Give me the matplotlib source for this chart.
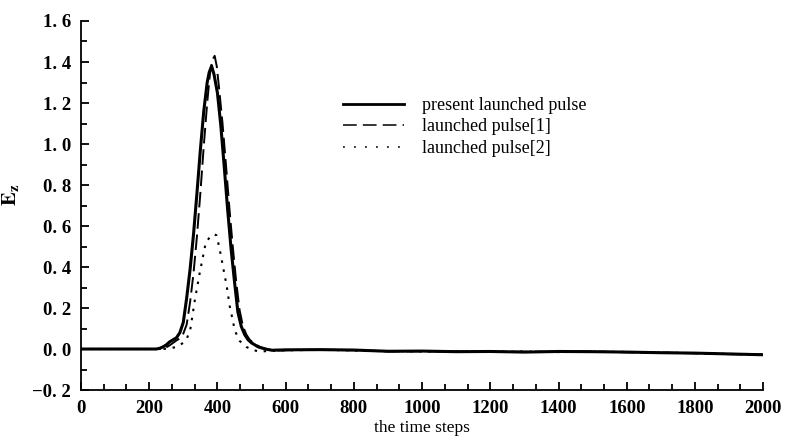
import matplotlib
matplotlib.use('agg')
import matplotlib.pyplot as plt
import matplotlib.ticker as mticker

plt.rcParams['mathtext.fontset'] = 'stix'

# time steps and field values
t_present = [0, 220, 230, 240, 250, 260, 270, 280, 290, 300, 310, 320, 330, 340, 350,
             360, 370, 376, 383, 390, 400, 410, 420, 430, 440, 450, 460, 470, 480,
             490, 500, 520, 540, 560, 600, 700, 800, 900, 1000, 1100, 1200, 1300,
             1400, 1500, 1600, 1700, 1800, 1900, 2000]
e_present = [0.0, 0.0, 0.003, 0.01, 0.02, 0.035, 0.045, 0.055, 0.08, 0.13, 0.25, 0.39,
             0.56, 0.76, 0.97, 1.16, 1.30, 1.35, 1.38, 1.34, 1.25, 1.09, 0.89, 0.68,
             0.49, 0.33, 0.18, 0.11, 0.07, 0.045, 0.03, 0.01, 0.0, -0.006, -0.004,
             -0.003, -0.005, -0.011, -0.010, -0.013, -0.012, -0.015, -0.012, -0.013,
             -0.015, -0.018, -0.02, -0.024, -0.028]

t_pulse1 = [0, 230, 240, 250, 260, 270, 280, 290, 300, 310, 320, 330, 340, 350, 360,
            370, 378, 385, 392, 398, 405, 415, 425, 435, 445, 455, 465, 475, 485,
            495, 505, 525, 545, 565, 600, 700, 800, 900, 1000, 1100, 1200, 1300,
            1400, 1500, 1600, 1700, 1800, 1900, 2000]
e_pulse1 = [0.0, 0.0, 0.002, 0.008, 0.018, 0.03, 0.042, 0.052, 0.075, 0.12, 0.23, 0.37,
            0.55, 0.76, 0.99, 1.20, 1.34, 1.41, 1.43, 1.38, 1.27, 1.10, 0.90, 0.69,
            0.50, 0.33, 0.19, 0.11, 0.07, 0.045, 0.03, 0.01, 0.0, -0.008, -0.006,
            -0.004, -0.006, -0.012, -0.011, -0.012, -0.014, -0.013, -0.014, -0.012,
            -0.016, -0.017, -0.021, -0.025, -0.027]

t_pulse2 = [0, 240, 260, 280, 300, 310, 320, 334, 348, 366, 380, 390, 397, 405, 412,
            420, 427, 436, 445, 451, 465, 485, 505, 524, 545, 600, 700, 800, 900,
            1000, 1100, 1200, 1300, 1400, 1500, 1600, 1700, 1800, 1900, 2000]
e_pulse2 = [0.0, 0.0, 0.003, 0.01, 0.03, 0.05, 0.09, 0.24, 0.37, 0.52, 0.55, 0.56, 0.555,
            0.5, 0.44, 0.37, 0.31, 0.21, 0.14, 0.09, 0.04, 0.01, -0.005, -0.013,
            -0.01, -0.006, -0.004, -0.007, -0.01, -0.012, -0.011, -0.014, -0.012,
            -0.015, -0.013, -0.014, -0.018, -0.02, -0.024, -0.028]

labels = ['present launched pulse', 'launched pulse[1]', 'launched pulse[2]']


def fmt(v, pos):
    s = '%.1f' % abs(v)
    s = s.replace('.', '. ')
    if v < -1e-9:
        s = '\u2212' + s
    return s


fig = plt.figure(figsize=(7.86, 4.43), dpi=100)
ax = fig.add_axes([0.103, 0.1196, 0.868, 0.833])

ax.plot(t_present, e_present, color='black', lw=2.2, solid_joinstyle='round',
        label=labels[0])
ax.plot(t_pulse1, e_pulse1, color='black', lw=1.4, dashes=(8, 3), label=labels[1])
ax.plot(t_pulse2, e_pulse2, color='black', lw=1.5, dashes=(1.2, 3.2), label=labels[2])

ax.set_xlim(0, 2000)
ax.set_ylim(-0.2, 1.6)
ax.spines['top'].set_visible(False)
ax.spines['right'].set_visible(False)
ax.spines['left'].set_linewidth(1.3)
ax.spines['bottom'].set_linewidth(1.3)

ax.xaxis.set_major_locator(mticker.MultipleLocator(200))
ax.xaxis.set_minor_locator(mticker.MultipleLocator(200.0 / 3))
ax.yaxis.set_major_locator(mticker.MultipleLocator(0.2))
ax.yaxis.set_minor_locator(mticker.MultipleLocator(0.1))
ax.yaxis.set_major_formatter(mticker.FuncFormatter(fmt))

ax.tick_params(which='both', direction='in', width=1.3)
ax.tick_params(which='major', length=6)
ax.tick_params(which='minor', length=4.5)
ax.tick_params(axis='y', which='major', pad=7)
ax.tick_params(axis='x', which='major', pad=7)

for lab in ax.get_xticklabels() + ax.get_yticklabels():
    lab.set_family('Liberation Serif')
    lab.set_fontsize(13.5)
    lab.set_fontweight('bold')

ax.set_xlabel('the time steps', family='Liberation Serif', fontsize=12.5, labelpad=2)
ax.set_ylabel(r'$\mathbf{E_z}$', fontsize=15)
ax.yaxis.set_label_coords(-0.088, 0.53)

leg = ax.legend(loc='center left', bbox_to_anchor=(0.384, 0.713), frameon=False,
                prop={'family': 'Liberation Serif', 'size': 13},
                handlelength=3.4, handletextpad=1.0, labelspacing=0.25,
                borderpad=0, borderaxespad=0)
lines = leg.get_lines()
lines[0].set_linewidth(2.0)
lines[1].set_linewidth(1.1)
lines[1].set_dashes((9, 4))
lines[2].set_linewidth(1.1)
lines[2].set_dashes((1.2, 6))

plt.savefig('out.png', dpi=100)
plt.close(fig)
